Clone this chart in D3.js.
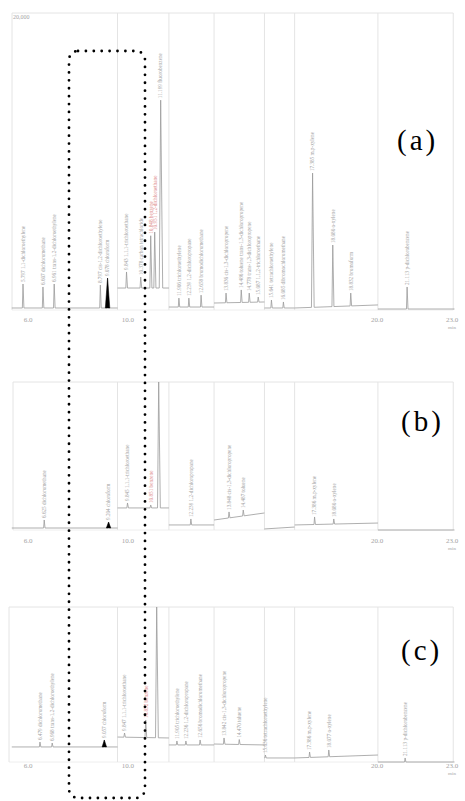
<!DOCTYPE html>
<html>
<head>
<meta charset="utf-8">
<script src="https://cdn.jsdelivr.net/npm/d3@7"></script>
<style>
  body { margin: 0; background: #fff; }
</style>
</head>
<body>
<svg id="chart" width="465" height="801"></svg>
<script>
// retention time windows (min) of the stitched chromatogram pieces
const segStart = [5.35, 9.59, 11.65, 13.46, 15.48, 16.69, 20.03]
const segEnd   = [9.59, 11.65, 13.46, 15.48, 16.69, 20.03, 23.1]
const xTicks = [6.0, 10.0, 20.0, 23.0]

// (a) standard
const baseA0 = [135, 1480, 200, 470, 135, 135, 67]
const baseA1 = [135, 1480, 200, 540, 135, 340, 67]
const timeA = [5.80, 6.60, 7.05, 8.90, 9.19, 9.95, 10.52, 10.92, 11.08, 11.32, 12.05, 12.45, 12.94,
               13.94, 14.55, 14.87, 15.23, 15.76, 16.24, 17.41, 18.22, 18.94, 21.20]
const heightA = [1750, 1550, 1750, 1680, 2150, 2560, 2220, 5000, 5250, 14130, 800, 800, 1000,
                 1140, 1350, 1140, 875, 670, 540, 9220, 4375, 1140, 1550]
const nameA = ["5.797 1,1-dichloroethylene", "6.607 dichloromethane", "6.961 trans-1,2-dichloroethylene",
  "8.797 cis-1,2-dichloroethylene", "9.078 chloroform", "9.843 1,1,1-trichloroethane",
  "10.378 carbon tetrachloride", "10.848 benzene", "10.951 1,2-dichloroethane", "11.199 fluorobenzene",
  "11.906 trichloroethylene", "12.239 1,2-dichloropropane", "12.658 bromodichloromethane",
  "13.836 cis-1,3-dichloropropene", "14.486 toluene  trans-1,3-dichloropropene", "14.778 trans-1,3-dichloropropene",
  "15.087 1,1,2-trichloroethane", "15.641 tetrachloroethylene", "16.085 dibromochloromethane",
  "17.385 m,p-xylene", "18.080 o-xylene", "18.832 bromoform", "21.113 p-dichlorobenzene"]
const redA = [7, 8]
const fillA = [4]

// (b) sample
const baseB0 = [135, 1490, 340, 675, 70, 340, 0]
const baseB1 = [135, 1490, 340, 1150, 200, 470, 0]
const timeB = [6.65, 9.23, 9.99, 10.92, 11.24, 12.53, 14.06, 14.63, 17.49, 18.26]
const heightB = [676, 540, 1825, 1690, 10000, 745, 1220, 1350, 880, 745]
const nameB = ["6.625 dichloromethane", "9.204 chloroform", "9.845 1,1,1-trichloroethane",
  "10.851 benzene", "", "12.239 1,2-dichloropropane", "13.848 cis-1,3-dichloropropene",
  "14.487 toluene", "17.386 m,p-xylene", "18.080 o-xylene"]
const redB = [3]
const fillB = [1]

// (c) sample
const baseC0 = [970, 1610, 1100, 1160, 260, 260, 0]
const baseC1 = [970, 1550, 1100, 1100, 260, 450, 0]
const timeC = [6.48, 6.97, 9.06, 9.87, 10.72, 11.16, 11.97, 12.33, 12.90, 13.86, 14.47, 15.52, 17.29, 18.06, 21.12]
const heightC = [1290, 1225, 1420, 1870, 2710, 10000, 1355, 1355, 1420, 1550, 1450, 450, 645, 775, 260]
const nameC = ["6.479 dichloromethane", "6.968 trans-1,2-dichloroethylene", "9.057 chloroform",
  "9.847 1,1,1-trichloroethane", "10.852 benzene", "", "11.905 trichloroethylene",
  "12.236 1,2-dichloropropane", "12.656 bromodichloromethane", "13.842 cis-1,3-dichloropropene",
  "14.470 toluene", "15.636 tetrachloroethylene", "17.386 m,p-xylene", "18.077 o-xylene",
  "21.113 p-dichlorobenzene"]
const redC = [4]
const fillC = [2]

const panels = [
  { tag: "(a)", ymax: 20000, top: 13, bottom: 310, left: 12, tagX: 397, tagY: 150, tickY: 322,
    b0: baseA0, b1: baseA1, times: timeA, heights: heightA, names: nameA, red: redA, fill: fillA },
  { tag: "(b)", ymax: 10000, top: 382, bottom: 530, left: 13, tagX: 401, tagY: 431, tickY: 543,
    b0: baseB0, b1: baseB1, times: timeB, heights: heightB, names: nameB, red: redB, fill: fillB },
  { tag: "(c)", ymax: 10000, top: 607, bottom: 762, left: 9, tagX: 401, tagY: 660, tickY: 768,
    b0: baseC0, b1: baseC1, times: timeC, heights: heightC, names: nameC, red: redC, fill: fillC }
]

const svg = d3.select("#chart")
const x = d3.scaleLinear().domain([6, 23]).range([28, 452])
const frameCol = "#e4e4e4", traceCol = "#9a9a9a", textCol = "#a4a4a4"

panels.forEach((p, pi) => {
  const y = d3.scaleLinear().domain([0, p.ymax]).range([p.bottom, p.top]).clamp(true)
  const g = svg.append("g")

  // faint frame pieces
  g.append("line").attr("x1", p.left).attr("x2", x(23.05)).attr("y1", p.top).attr("y2", p.top)
    .attr("stroke", frameCol)
  g.append("line").attr("x1", p.left).attr("x2", x(23.05)).attr("y1", p.bottom).attr("y2", p.bottom)
    .attr("stroke", "#eeeeee")
  g.selectAll(".div").data([p.left].concat(segStart.slice(1).map(x), [x(23.05)]))
    .enter().append("line")
      .attr("x1", d => d).attr("x2", d => d)
      .attr("y1", p.top).attr("y2", p.bottom)
      .attr("stroke", frameCol)

  // one trace per segment, peaks as narrow spikes
  const line = d3.line().x(d => x(d[0])).y(d => y(d[1]))
  segStart.forEach((s0, s) => {
    const s1 = segEnd[s]
    const base = t => p.b0[s] + (p.b1[s] - p.b0[s]) * (t - s0) / (s1 - s0)
    const pts = [[s0, base(s0)]]
    p.times.forEach((t, i) => {
      if (t < s0 || t >= s1) return
      const h = Math.min(p.heights[i], p.ymax)
      const w = 0.022 + h / 400000
      pts.push([t - w, base(t - w)], [t, h], [t + w * 1.4, base(t + w * 1.4)])
    })
    pts.push([s1, base(s1)])
    g.append("path").attr("d", line(pts))
      .attr("fill", "none").attr("stroke", traceCol).attr("stroke-width", 0.8)
  })

  // black filled peak
  p.fill.forEach(i => {
    const t = p.times[i], s = segStart.findIndex((s0, k) => t >= s0 && t < segEnd[k])
    const base = tt => p.b0[s] + (p.b1[s] - p.b0[s]) * (tt - segStart[s]) / (segEnd[s] - segStart[s])
    const w = 0.09
    g.append("path")
      .attr("d", line([[t - w, base(t - w)], [t, p.heights[i]], [t + w, base(t + w)]]) + "Z")
      .attr("fill", "#000").attr("stroke", "#000").attr("stroke-width", 0.5)
  })

  // peak labels, vertical
  g.selectAll(".lbl").data(p.times.map((t, i) => i).filter(i => p.names[i]))
    .enter().append("text")
      .attr("transform", i => `translate(${x(p.times[i]) + 1.8},${y(p.heights[i]) - 2}) rotate(-90)`)
      .attr("font-family", "Liberation Serif, serif")
      .attr("font-size", 5.2)
      .attr("fill", i => p.red.includes(i) ? "#dd8a8a" : textCol)
      .text(i => p.names[i])

  // time axis labels
  g.selectAll(".tick").data(xTicks).enter().append("text")
    .attr("x", d => x(d)).attr("y", p.tickY)
    .attr("text-anchor", "middle")
    .attr("font-family", "Liberation Serif, serif").attr("font-size", 7)
    .attr("fill", textCol)
    .text(d => d3.format(".1f")(d))
  g.append("text").attr("x", x(23)).attr("y", p.tickY + 7)
    .attr("text-anchor", "middle")
    .attr("font-family", "Liberation Serif, serif").attr("font-size", 5)
    .attr("fill", textCol).text("min")

  if (pi === 0) {
    g.append("text").attr("x", p.left + 1).attr("y", p.top + 6)
      .attr("font-family", "Liberation Serif, serif").attr("font-size", 6)
      .attr("fill", textCol).text("20,000")
  }

  g.append("text").attr("x", p.tagX).attr("y", p.tagY)
    .attr("font-family", "Liberation Serif, serif").attr("font-size", 29)
    .attr("letter-spacing", 3)
    .attr("fill", "#000").text(p.tag)
})

// dotted box around the chloroform window
svg.append("rect")
  .attr("x", 69).attr("y", 51).attr("width", 76).attr("height", 747).attr("rx", 9)
  .attr("fill", "none").attr("stroke", "#000").attr("stroke-width", 2.8)
  .attr("stroke-linecap", "round").attr("stroke-dasharray", "0 7.9")
</script>
</body>
</html>
